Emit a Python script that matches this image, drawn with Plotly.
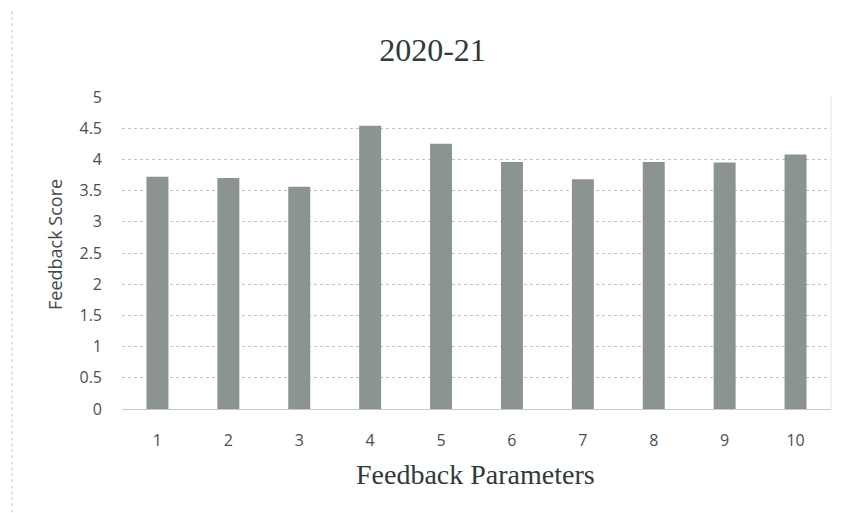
import plotly.graph_objects as go

categories = ["1", "2", "3", "4", "5", "6", "7", "8", "9", "10"]
scores = [3.72, 3.70, 3.56, 4.54, 4.25, 3.96, 3.68, 3.96, 3.95, 4.08]
y_ticks = [0, 0.5, 1, 1.5, 2, 2.5, 3, 3.5, 4, 4.5, 5]
y_tick_labels = ["0", "0.5", "1", "1.5", "2", "2.5", "3", "3.5", "4", "4.5", "5"]

fig = go.Figure(go.Bar(
    x=categories, y=scores,
    marker=dict(color="#8b9393", line=dict(width=0)),
))

fig.update_layout(
    width=848, height=513,
    margin=dict(l=114, r=25, t=89, b=112),
    paper_bgcolor="white", plot_bgcolor="white",
    bargap=0.69,
    showlegend=False,
    title=dict(text="2020-21", x=0.5006, xanchor="center", y=0.918, yanchor="middle",
               font=dict(family="Liberation Serif", size=32, color="#2f3a3a")),
    xaxis=dict(
        tickfont=dict(family="Open Sans", size=16, color="#4a4f4f"),
        showgrid=False, showline=True, linecolor="#c8c8c8", linewidth=1,
        ticks="", ticklabelstandoff=17,
    ),
    yaxis=dict(
        range=[0, 5], tickvals=y_ticks, ticktext=y_tick_labels,
        tickfont=dict(family="Open Sans", size=16, color="#4a4f4f"),
        showgrid=True, gridcolor="#c2c2c2", griddash="dot", gridwidth=1,
        zeroline=False, ticks="", ticklabelstandoff=19,
    ),
    annotations=[
        dict(text="Feedback Parameters", xref="paper", yref="paper",
             x=0.498, y=-0.2115, xanchor="center", yanchor="middle", showarrow=False,
             font=dict(family="Liberation Serif", size=28, color="#2f3a3a")),
        dict(text="Feedback Score", xref="paper", yref="paper", textangle=-90,
             x=-0.0945, y=0.529, xanchor="center", yanchor="middle", showarrow=False,
             font=dict(family="Open Sans", size=18, color="#3f4a4a")),
    ],
)

fig.add_shape(type="line", xref="paper", yref="paper",
              x0=-0.155, x1=-0.155, y0=-0.35, y1=1.28,
              line=dict(color="#c4c4c4", width=1, dash="dot"))
fig.add_shape(type="line", xref="paper", yref="paper",
              x0=1.0, x1=1.0, y0=0, y1=1,
              line=dict(color="#e3e3e3", width=1))

fig.write_html("out.html")
